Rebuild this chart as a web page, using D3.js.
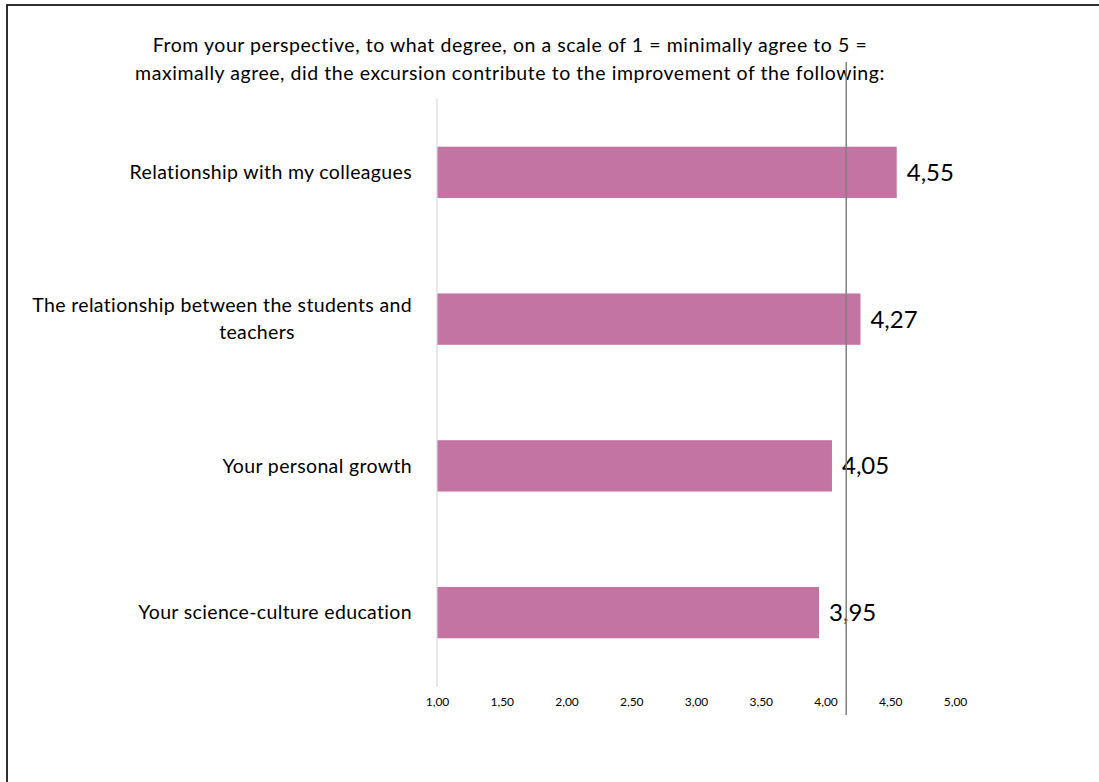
<html>
<head>
  <meta charset="UTF-8">
  <title>Excursion survey</title>
  <script src="https://d3js.org/d3.v7.min.js"></script>
  <style>
    body { margin: 0; background: white; }
    svg text { font-family: Lato, "Open Sans", sans-serif; fill: #000; }
  </style>
</head>
<body>
  <svg></svg>

  <script>
    // Data
    const categories = [
      "Relationship with my colleagues",
      "The relationship between the students and teachers",
      "Your personal growth",
      "Your science-culture education"
    ];
    const categoryLines = [
      ["Relationship with my colleagues"],
      ["The relationship between the students and", "teachers"],
      ["Your personal growth"],
      ["Your science-culture education"]
    ];
    const values = [4.55, 4.27, 4.05, 3.95];
    const tickValues = [1, 1.5, 2, 2.5, 3, 3.5, 4, 4.5, 5];
    const refValue = 4.16;
    const titleLines = [
      "From your perspective, to what degree, on a scale of 1 = minimally agree to 5 =",
      "maximally agree, did the excursion contribute to the improvement of the following:"
    ];

    // Setup
    const width = 1099;
    const height = 782;

    let svg = d3.select("svg")
                .attr("width", width)
                .attr("height", height);

    // outer frame (runs off the right and bottom edge)
    svg.append("rect")
       .attr("x", 7)
       .attr("y", 5)
       .attr("width", 1100)
       .attr("height", 800)
       .attr("fill", "none")
       .attr("stroke", "#1a1a1a")
       .attr("stroke-width", 1.8);

    // Title
    svg.append("g").selectAll("text")
       .data(titleLines)
       .join("text")
       .attr("x", 510)
       .attr("y", (d, i) => 52 + i * 28)
       .attr("text-anchor", "middle")
       .style("font-size", "19.5px")
       .style("letter-spacing", "0.55px")
       .text(d => d);

    // Scales
    const xScale = d3.scaleLinear().domain([1, 5]).range([437, 955]);
    const yScale = d3.scaleBand().domain(categories)
                     .range([99, 686])
                     .paddingInner(0.65)
                     .paddingOuter(0.325);

    const locale = d3.formatLocale({ decimal: ",", thousands: ".", grouping: [3], currency: ["", ""] });
    const fmt = locale.format(".2f");

    // Bars
    svg.append("g").selectAll("rect")
       .data(values)
       .join("rect")
       .attr("x", xScale(1))
       .attr("y", (d, i) => yScale(categories[i]))
       .attr("width", d => xScale(d) - xScale(1))
       .attr("height", yScale.bandwidth())
       .attr("fill", "#c474a3");

    // Left axis line
    svg.append("line")
       .attr("x1", xScale(1)).attr("x2", xScale(1))
       .attr("y1", 99).attr("y2", 687)
       .attr("stroke", "#d9d9d9")
       .attr("stroke-width", 1.2);

    // Category labels
    let catLabels = svg.append("g").selectAll("text")
       .data(categoryLines)
       .join("text")
       .attr("transform", (d, i) => `translate(412, ${yScale(categories[i]) + yScale.bandwidth() / 2})`)
       .style("font-size", "19.5px")
       .style("letter-spacing", "0.35px");

    catLabels.each(function(lines) {
      let t = d3.select(this);
      let n = lines.length;
      lines.forEach((line, j) => {
        t.append("tspan")
         .attr("x", j == 0 ? 0 : -155)
         .attr("y", (j - (n - 1) / 2) * 27)
         .attr("dy", "0.35em")
         .attr("text-anchor", j == 0 ? "end" : "middle")
         .text(line);
      });
    });

    // Value labels
    svg.append("g").selectAll("text")
       .data(values)
       .join("text")
       .attr("x", d => xScale(d) + 10)
       .attr("y", (d, i) => yScale(categories[i]) + yScale.bandwidth() / 2)
       .attr("dy", "0.35em")
       .style("font-size", "24px")
       .text(d => fmt(d));

    // Bottom axis (labels only)
    let bottomAxis = d3.axisBottom(xScale)
                       .tickValues(tickValues)
                       .tickSize(0)
                       .tickPadding(0)
                       .tickFormat(fmt);
    let axisG = svg.append("g")
       .attr("class", "x axis")
       .attr("transform", "translate(0, 697)")
       .call(bottomAxis);
    axisG.select(".domain").remove();
    axisG.selectAll("text")
         .style("font-size", "12px")
         .style("font-family", "Lato, sans-serif")
         .attr("fill", "#404040");

    // Vertical reference line
    svg.append("line")
       .attr("x1", xScale(refValue)).attr("x2", xScale(refValue))
       .attr("y1", 62).attr("y2", 715)
       .attr("stroke", "#7f7f7f")
       .attr("stroke-width", 1.5);
  </script>
</body>
</html>
